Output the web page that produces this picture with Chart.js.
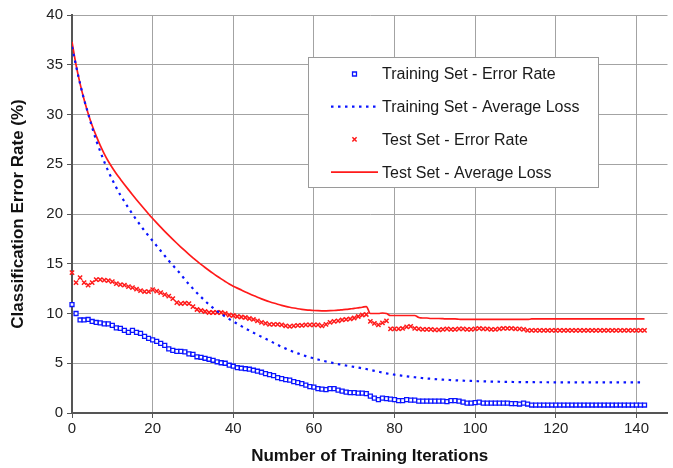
<!DOCTYPE html>
<html>
<head>
<meta charset="utf-8">
<script src="https://cdn.jsdelivr.net/npm/chart.js@4/dist/chart.umd.min.js"></script>
<style>
  html, body { margin: 0; padding: 0; background: #fff; }
  #wrap { width: 673px; height: 468px; }
</style>
</head>
<body>
<div id="wrap"><canvas id="errChart" width="673" height="468"></canvas></div>
<script>
// iterations 0..142 (one sample per training iteration)
const iterations = Array.from({ length: 143 }, (_, i) => i);

const trainError = [
  10.9, 10.0, 9.35, 9.35, 9.4, 9.2, 9.1, 9.05, 8.95, 8.95,
  8.8, 8.55, 8.5, 8.3, 8.1, 8.3, 8.1, 8.0, 7.7, 7.5,
  7.35, 7.2, 7.0, 6.8, 6.45, 6.3, 6.2, 6.2, 6.15, 5.95,
  5.9, 5.65, 5.6, 5.5, 5.4, 5.3, 5.15, 5.05, 5.0, 4.8,
  4.7, 4.55, 4.5, 4.45, 4.4, 4.3, 4.2, 4.1, 3.95, 3.85,
  3.75, 3.55, 3.45, 3.35, 3.3, 3.15, 3.05, 2.95, 2.8, 2.65,
  2.6, 2.45, 2.4, 2.35, 2.45, 2.45, 2.3, 2.2, 2.1, 2.05,
  2.05, 2.0, 2.0, 1.95, 1.7, 1.5, 1.35, 1.5, 1.45, 1.4,
  1.35, 1.25, 1.25, 1.35, 1.3, 1.3, 1.2, 1.2, 1.2, 1.2,
  1.2, 1.2, 1.2, 1.15, 1.25, 1.25, 1.2, 1.1, 1.0, 1.0,
  1.05, 1.1, 1.0, 1.0, 1.0, 1.0, 1.0, 1.0, 1.0, 0.95,
  0.95, 0.9, 1.0, 0.9, 0.8, 0.8, 0.8, 0.8, 0.8, 0.8,
  0.8, 0.8, 0.8, 0.8, 0.8, 0.8, 0.8, 0.8, 0.8, 0.8,
  0.8, 0.8, 0.8, 0.8, 0.8, 0.8, 0.8, 0.8, 0.8, 0.8,
  0.8, 0.8, 0.8
];

const trainLoss = [
  36.8, 34.9, 33.1, 31.5, 30.1, 28.7, 27.4, 26.3, 25.25, 24.3,
  23.45, 22.65, 21.9, 21.25, 20.6, 20.0, 19.4, 18.85, 18.3, 17.8,
  17.3, 16.8, 16.3, 15.8, 15.3, 14.85, 14.4, 13.95, 13.4, 12.95,
  12.5, 12.07, 11.66, 11.27, 10.9, 10.56, 10.25, 9.96, 9.69, 9.44,
  9.2, 8.96, 8.73, 8.5, 8.28, 8.07, 7.86, 7.66, 7.46, 7.27,
  7.05, 6.85, 6.65, 6.47, 6.3, 6.14, 5.99, 5.85, 5.72, 5.6,
  5.49, 5.38, 5.28, 5.18, 5.09, 5.0, 4.92, 4.84, 4.77, 4.7,
  4.63, 4.56, 4.49, 4.42, 4.33, 4.24, 4.15, 4.06, 3.98, 3.91,
  3.85, 3.79, 3.74, 3.69, 3.64, 3.59, 3.55, 3.51, 3.47, 3.44,
  3.41, 3.38, 3.35, 3.33, 3.31, 3.29, 3.27, 3.25, 3.23, 3.22,
  3.2, 3.19, 3.18, 3.17, 3.16, 3.15, 3.14, 3.13, 3.12, 3.12,
  3.11, 3.11, 3.1, 3.1, 3.1, 3.09, 3.09, 3.09, 3.09, 3.08,
  3.08, 3.08, 3.08, 3.08, 3.08, 3.08, 3.08, 3.08, 3.08, 3.08,
  3.08, 3.08, 3.08, 3.08, 3.08, 3.08, 3.08, 3.08, 3.08, 3.08,
  3.08, 3.08, 3.08
];

const testError = [
  14.1, 13.1, 13.6, 13.1, 12.85, 13.1, 13.4, 13.4, 13.35, 13.3,
  13.2, 13.0, 12.9, 12.85, 12.7, 12.6, 12.45, 12.3, 12.2, 12.2,
  12.4, 12.25, 12.1, 11.9, 11.75, 11.5, 11.1, 11.0, 11.05, 11.0,
  10.7, 10.4, 10.3, 10.2, 10.1, 10.1, 10.1, 10.1, 10.0, 9.85,
  9.8, 9.7, 9.65, 9.6, 9.5, 9.4, 9.25, 9.1, 9.0, 8.9,
  8.9, 8.9, 8.85, 8.75, 8.7, 8.75, 8.8, 8.8, 8.85, 8.85,
  8.85, 8.85, 8.75, 8.9, 9.1, 9.2, 9.25, 9.35, 9.4, 9.45,
  9.55, 9.7, 9.85, 9.9, 9.2, 9.0, 8.85, 9.05, 9.25, 8.45,
  8.45, 8.45, 8.5, 8.65, 8.7, 8.5, 8.45, 8.4, 8.4, 8.4,
  8.35, 8.35, 8.4, 8.45, 8.4, 8.4, 8.45, 8.45, 8.4, 8.4,
  8.45, 8.5, 8.45, 8.45, 8.4, 8.4, 8.45, 8.5, 8.5, 8.5,
  8.45, 8.45, 8.4, 8.3, 8.3, 8.3, 8.3, 8.3, 8.3, 8.3,
  8.3, 8.3, 8.3, 8.3, 8.3, 8.3, 8.3, 8.3, 8.3, 8.3,
  8.3, 8.3, 8.3, 8.3, 8.3, 8.3, 8.3, 8.3, 8.3, 8.3,
  8.3, 8.3, 8.3
];

const testLoss = [
  37.3, 35.0, 33.1, 31.5, 30.1, 28.9, 27.85, 26.9, 26.05, 25.3,
  24.65, 24.05, 23.5, 22.97, 22.45, 21.94, 21.44, 20.95, 20.47, 20.0,
  19.55, 19.11, 18.68, 18.26, 17.85, 17.45, 17.06, 16.68, 16.31, 15.95,
  15.6, 15.26, 14.93, 14.62, 14.32, 14.03, 13.75, 13.48, 13.22, 12.97,
  12.75, 12.55, 12.36, 12.17, 11.98, 11.8, 11.63, 11.47, 11.32, 11.18,
  11.05, 10.93, 10.82, 10.72, 10.63, 10.55, 10.48, 10.42, 10.37, 10.33,
  10.3, 10.28, 10.27, 10.27, 10.28, 10.3, 10.33, 10.37, 10.41, 10.46,
  10.51, 10.57, 10.63, 10.7, 10.0, 10.0, 10.0, 10.05, 10.0, 9.8,
  9.8, 9.8, 9.8, 9.8, 9.8, 9.8, 9.6, 9.55, 9.55, 9.5,
  9.5, 9.5, 9.48, 9.45, 9.45, 9.45, 9.42, 9.4, 9.4, 9.4,
  9.4, 9.4, 9.4, 9.4, 9.4, 9.4, 9.4, 9.4, 9.4, 9.4,
  9.4, 9.4, 9.4, 9.4, 9.45, 9.45, 9.45, 9.45, 9.45, 9.45,
  9.45, 9.45, 9.45, 9.45, 9.45, 9.45, 9.45, 9.45, 9.45, 9.45,
  9.45, 9.45, 9.45, 9.45, 9.45, 9.45, 9.45, 9.45, 9.45, 9.45,
  9.45, 9.45, 9.45
];

const seriesNames = [
  "Training Set - Error Rate",
  "Training Set - Average Loss",
  "Test Set - Error Rate",
  "Test Set - Average Loss"
];
const xTicks = [0, 20, 40, 60, 80, 100, 120, 140];
const yTicks = [0, 5, 10, 15, 20, 25, 30, 35, 40];

const BLUE = "#0a14ff";
const RED = "#ff1a1a";
const FONT = "'Liberation Sans', Arial, sans-serif";

function toPoints(values) {
  return values.map((v, i) => ({ x: iterations[i], y: v }));
}

// legend drawn inside the plot, like the original
const insideLegend = {
  id: "insideLegend",
  afterDatasetsDraw(chart) {
    const ctx = chart.ctx;
    const area = chart.chartArea;
    const left = area.left + 236;
    const top = area.top + 42;
    const w = 290, h = 130, rowH = 32.7;
    ctx.save();
    ctx.fillStyle = "#fff";
    ctx.fillRect(left, top, w, h);
    ctx.strokeStyle = "#9a9a9a";
    ctx.lineWidth = 1;
    ctx.strokeRect(left + 0.5, top + 0.5, w, h);
    chart.data.datasets.forEach((ds, i) => {
      const cy = top + 17 + i * rowH;
      const sx = left + 23, ex = left + 70;
      if (ds.showLine === false) {
        ctx.strokeStyle = ds.pointBorderColor;
        ctx.fillStyle = "#fff";
        ctx.lineWidth = ds.pointBorderWidth;
        Chart.helpers.drawPoint(ctx, {
          pointStyle: ds.pointStyle,
          radius: ds.pointRadius,
          borderWidth: ds.pointBorderWidth,
          rotation: 0
        }, (sx + ex) / 2, cy);
      } else {
        ctx.strokeStyle = ds.borderColor;
        ctx.lineWidth = ds.borderWidth;
        ctx.setLineDash(ds.borderDash || []);
        ctx.beginPath();
        ctx.moveTo(sx, cy);
        ctx.lineTo(ex, cy);
        ctx.stroke();
        ctx.setLineDash([]);
      }
      ctx.fillStyle = "#1a1a1a";
      ctx.font = "16px " + FONT;
      ctx.textBaseline = "middle";
      ctx.textAlign = "left";
      ctx.fillText(ds.label, left + 74, cy + 1);
    });
    ctx.restore();
  }
};

const ctx = document.getElementById("errChart").getContext("2d");

new Chart(ctx, {
  type: "line",
  data: {
    datasets: [
      {
        label: seriesNames[0],
        data: toPoints(trainError),
        showLine: false,
        clip: false,
        pointStyle: "rect",
        pointRadius: 2.8,
        pointBorderWidth: 1.3,
        pointBorderColor: BLUE,
        pointBackgroundColor: "#fff",
        borderColor: BLUE
      },
      {
        label: seriesNames[1],
        data: toPoints(trainLoss),
        borderColor: BLUE,
        borderWidth: 2.2,
        borderDash: [2.5, 4.5],
        pointRadius: 0,
        fill: false,
        cubicInterpolationMode: "monotone"
      },
      {
        label: seriesNames[2],
        data: toPoints(testError),
        showLine: false,
        clip: false,
        pointStyle: "crossRot",
        pointRadius: 3,
        pointBorderWidth: 1.5,
        pointBorderColor: RED,
        pointBackgroundColor: RED,
        borderColor: RED
      },
      {
        label: seriesNames[3],
        data: toPoints(testLoss),
        borderColor: RED,
        borderWidth: 1.7,
        pointRadius: 0,
        fill: false,
        cubicInterpolationMode: "monotone"
      }
    ]
  },
  options: {
    responsive: false,
    animation: false,
    devicePixelRatio: 1,
    layout: { padding: { top: 15, right: 0, bottom: 0, left: 0 } },
    plugins: {
      legend: { display: false },
      tooltip: { enabled: false }
    },
    scales: {
      x: {
        type: "linear",
        min: 0,
        max: 147.7,
        afterBuildTicks(scale) {
          scale.ticks = xTicks.map(v => ({ value: v }));
        },
        afterFit(scale) { scale.height = 55; },
        ticks: {
          font: { family: FONT, size: 15 },
          color: "#222",
          padding: 2,
          maxRotation: 0
        },
        grid: {
          color: "#a3a3a3",
          lineWidth: 1,
          tickLength: 5,
          tickColor: "#555"
        },
        border: { color: "#555", width: 2 },
        title: {
          display: true,
          text: "Number of Training Iterations",
          font: { family: FONT, size: 17, weight: "bold" },
          color: "#111",
          padding: { top: 0, bottom: 1 }
        }
      },
      y: {
        min: 0,
        max: 40,
        afterBuildTicks(scale) {
          scale.ticks = yTicks.map(v => ({ value: v }));
        },
        afterFit(scale) { scale.width = 72; },
        ticks: {
          font: { family: FONT, size: 15 },
          color: "#222",
          padding: 4
        },
        grid: {
          color: "#a3a3a3",
          lineWidth: 1,
          tickLength: 5,
          tickColor: "#555"
        },
        border: { color: "#555", width: 2 },
        title: {
          display: true,
          text: "Classification Error Rate (%)",
          font: { family: FONT, size: 17, weight: "bold" },
          color: "#111",
          padding: { top: 8, bottom: 0 }
        }
      }
    }
  },
  plugins: [insideLegend]
});
</script>
</body>
</html>
